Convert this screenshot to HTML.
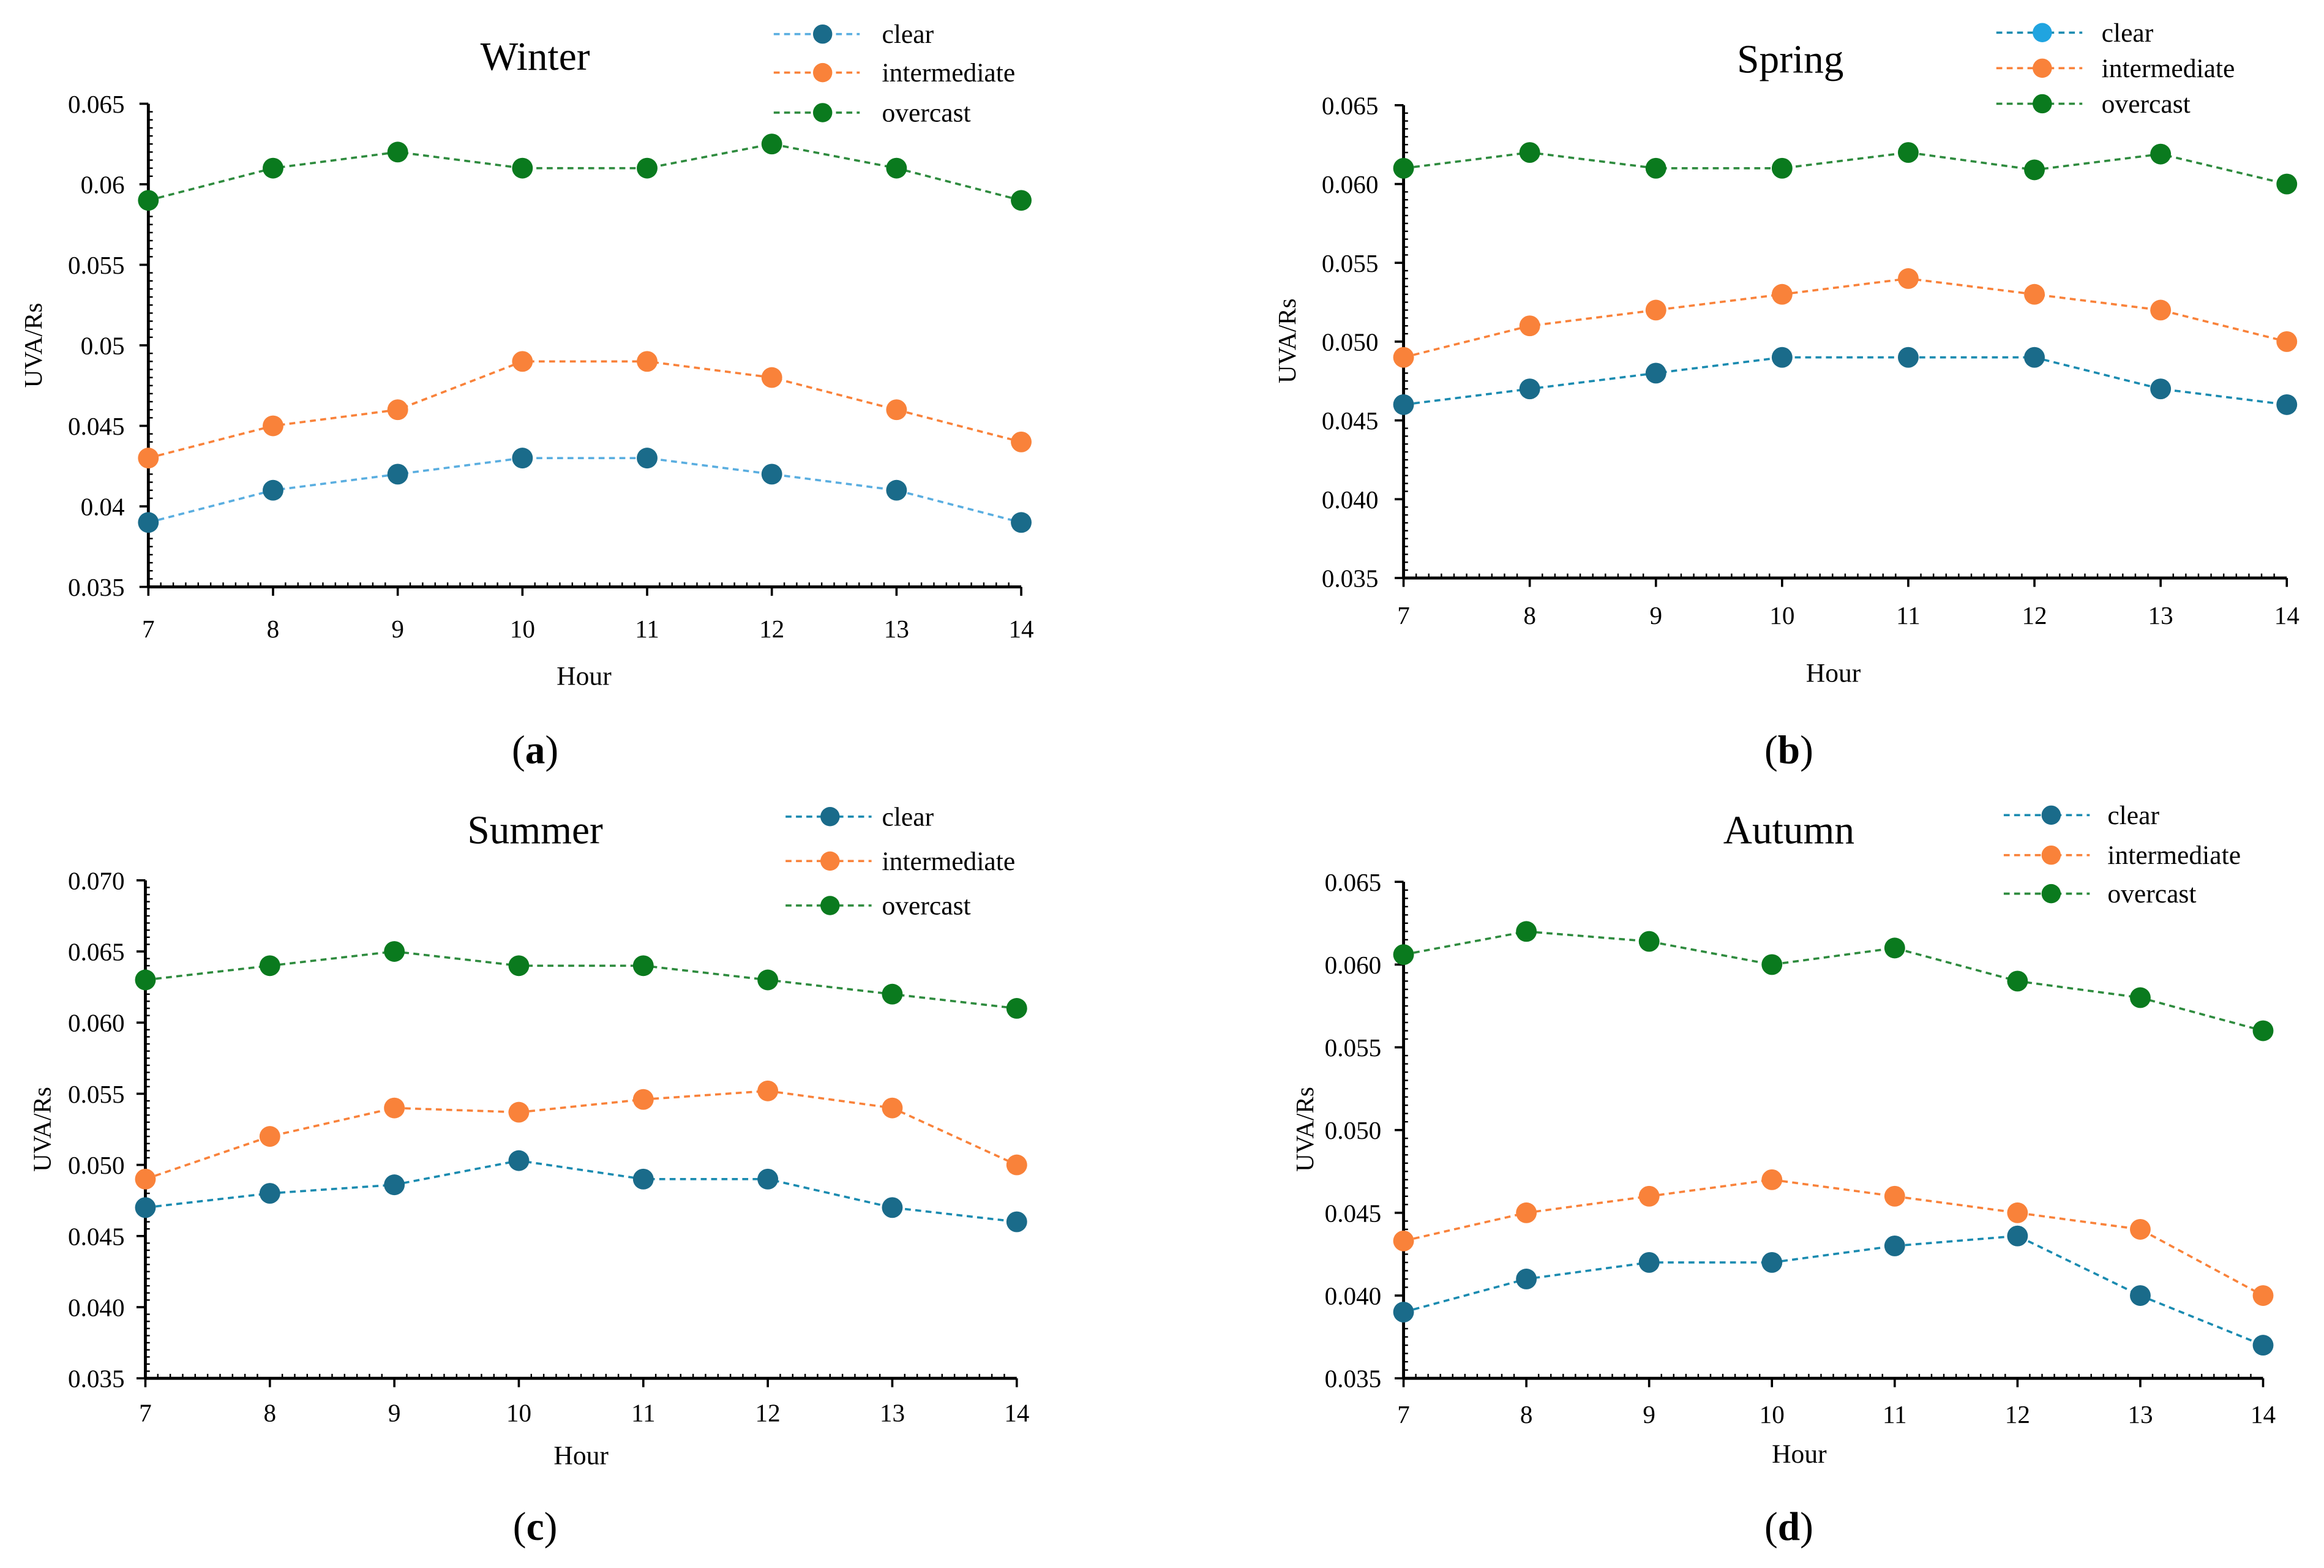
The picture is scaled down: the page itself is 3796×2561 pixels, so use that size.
<!DOCTYPE html>
<html><head><meta charset="utf-8"><style>
html,body{margin:0;padding:0;background:#fff}
svg{display:block;font-family:"Liberation Serif",serif}
svg text{font-family:"Liberation Serif",serif}
</style></head><body>
<svg id="chart" width="3796" height="2561" viewBox="0 0 1568 1058" xmlns="http://www.w3.org/2000/svg"></svg>
<script>
const hours = [7, 8, 9, 10, 11, 12, 13, 14];
const seriesNames = ["clear", "intermediate", "overcast"];
const winterClear = [0.039, 0.041, 0.042, 0.043, 0.043, 0.042, 0.041, 0.039];
const winterInter = [0.043, 0.045, 0.046, 0.049, 0.049, 0.048, 0.046, 0.044];
const winterOver = [0.059, 0.061, 0.062, 0.061, 0.061, 0.0625, 0.061, 0.059];
const springClear = [0.046, 0.047, 0.048, 0.049, 0.049, 0.049, 0.047, 0.046];
const springInter = [0.049, 0.051, 0.052, 0.053, 0.054, 0.053, 0.052, 0.050];
const springOver = [0.061, 0.062, 0.061, 0.061, 0.062, 0.0609, 0.0619, 0.060];
const summerClear = [0.047, 0.048, 0.0486, 0.0503, 0.049, 0.049, 0.047, 0.046];
const summerInter = [0.049, 0.052, 0.054, 0.0537, 0.0546, 0.0552, 0.054, 0.050];
const summerOver = [0.063, 0.064, 0.065, 0.064, 0.064, 0.063, 0.062, 0.061];
const autumnClear = [0.039, 0.041, 0.042, 0.042, 0.043, 0.0436, 0.040, 0.037];
const autumnInter = [0.0433, 0.045, 0.046, 0.047, 0.046, 0.045, 0.044, 0.040];
const autumnOver = [0.0606, 0.062, 0.0614, 0.060, 0.061, 0.059, 0.058, 0.056];
const ticksA = ["0.035","0.04","0.045","0.05","0.055","0.06","0.065"];
const ticksB = ["0.035","0.040","0.045","0.050","0.055","0.060","0.065"];
const ticksC = ["0.035","0.040","0.045","0.050","0.055","0.060","0.065","0.070"];

const NS = "http://www.w3.org/2000/svg";
const FONT = "Liberation Serif, serif";
const svg = document.getElementById("chart");
function mk(tag, attrs, parent, text) {
  const e = document.createElementNS(NS, tag);
  for (const k in attrs) e.setAttribute(k, attrs[k]);
  if (tag === "text") e.setAttribute("font-family", FONT);
  if (text !== undefined) e.textContent = text;
  (parent || svg).appendChild(e);
  return e;
}
const panels = [
  {key:"winter", title:"Winter", tx:361, ty:38, sub:"a", sx:361, sy:506,
   x0:100, x1:689, yTop:70, yBot:396, ticks:ticksA, lblX:84, xLblY:424, hx:394, hy:456, ytx:22, yty:233,
   data:[winterClear, winterInter, winterOver], lineClear:"#5aaee0", legMarkClear:"#1a6b8a",
   lx0:522, lx1:580, lm:555, lt:595, ly:[23,49,76]},
  {key:"spring", title:"Spring", tx:1208, ty:40, sub:"b", sx:1207, sy:506,
   x0:947, x1:1543, yTop:71, yBot:390, ticks:ticksB, lblX:930, xLblY:415, hx:1237, hy:454, ytx:868, yty:230,
   data:[springClear, springInter, springOver], lineClear:"#1a8bb0", legMarkClear:"#20a4e0",
   lx0:1347, lx1:1405, lm:1378, lt:1418, ly:[22,46,70]},
  {key:"summer", title:"Summer", tx:361, ty:560, sub:"c", sx:361, sy:1030,
   x0:98, x1:686, yTop:594, yBot:930, ticks:ticksC, lblX:84, xLblY:953, hx:392, hy:982, ytx:28, yty:762,
   data:[summerClear, summerInter, summerOver], lineClear:"#1a8bb0", legMarkClear:"#1a6b8a",
   lx0:530, lx1:588, lm:560, lt:595, ly:[551,581,611]},
  {key:"autumn", title:"Autumn", tx:1207, ty:560, sub:"d", sx:1207, sy:1030,
   x0:947, x1:1527, yTop:595, yBot:930, ticks:ticksB, lblX:932, xLblY:954, hx:1214, hy:981, ytx:880, yty:762,
   data:[autumnClear, autumnInter, autumnOver], lineClear:"#1a8bb0", legMarkClear:"#1a6b8a",
   lx0:1352, lx1:1410, lm:1384, lt:1422, ly:[550,577,603]}
];
const markColors = ["#1a6b8a", "#f9823a", "#0a7a1e"];
const lineColors2 = ["#f9823a", "#2e8b3e"];

panels.forEach(p => {
  const g = mk("g", {});
  
  
  const vMin = parseFloat(p.ticks[0]), vMax = parseFloat(p.ticks[p.ticks.length-1]);
  const yS = v => p.yBot - (v - vMin) / (vMax - vMin) * (p.yBot - p.yTop);
  const xS = h => p.x0 + (h - hours[0]) / (hours[hours.length-1] - hours[0]) * (p.x1 - p.x0);
  const ya = mk("line", {x1:p.x0, y1:p.yTop, x2:p.x0, y2:p.yBot, stroke:"#000", "stroke-width":2}, g);
  
  
  const xa = mk("line", {x1:p.x0, y1:p.yBot, x2:p.x1, y2:p.yBot, stroke:"#000", "stroke-width":2}, g);
  
  
  p.ticks.forEach((t, i) => {
    const y = yS(parseFloat(t));
    mk("line", {x1:p.x0-6, y1:y, x2:p.x0, y2:y, stroke:"#000", "stroke-width":1.5}, g);
    if (i < p.ticks.length-1) {
      for (let k = 1; k < 10; k++) {
        const ym = y - k*(y - yS(parseFloat(p.ticks[i+1])))/10;
        mk("line", {x1:p.x0, y1:ym, x2:p.x0+3, y2:ym, stroke:"#000", "stroke-width":1}, g);
      }
    }
    const tl = mk("text", {x:p.lblX, y:y+6, "text-anchor":"end", "font-size":17}, g, t);
    
    
  });
  hours.forEach((h, i) => {
    const x = xS(h);
    mk("line", {x1:x, y1:p.yBot, x2:x, y2:p.yBot+6, stroke:"#000", "stroke-width":1.5}, g);
    if (i < hours.length-1) {
      for (let k = 1; k < 10; k++) {
        const xm = x + k*(xS(hours[i+1]) - x)/10;
        mk("line", {x1:xm, y1:p.yBot-3, x2:xm, y2:p.yBot, stroke:"#000", "stroke-width":1}, g);
      }
    }
    const xl = mk("text", {x:x, y:p.xLblY+6, "text-anchor":"middle", "font-size":17}, g, String(h));
    
    
  });
  const ht = mk("text", {x:p.hx, y:p.hy+6, "text-anchor":"middle", "font-size":18}, g, "Hour");
  
  
  const yt = mk("text", {x:p.ytx, y:p.yty, "text-anchor":"middle", "font-size":17, transform:`rotate(-90 ${p.ytx} ${p.yty})`, dy:6}, g, "UVA/Rs");
  
  
  const tt = mk("text", {x:p.tx, y:p.ty+9, "text-anchor":"middle", "font-size":27}, g, p.title);
  
  
  const st = mk("text", {x:p.sx, y:p.sy+9, "text-anchor":"middle", "font-size":27}, g);
  
  
  mk("tspan", {}, st, "(");
  mk("tspan", {"font-weight":"bold"}, st, p.sub);
  mk("tspan", {}, st, ")");
  const lineCols = [p.lineClear, lineColors2[0], lineColors2[1]];
  p.data.forEach((vals, si) => {
    const pts = vals.map((v, i) => `${xS(hours[i])},${yS(v)}`).join(" ");
    const pl = mk("polyline", {points:pts, fill:"none", stroke:lineCols[si], "stroke-width":1.5, "stroke-dasharray":"4,3"}, g);
    
    
    vals.forEach((v, i) => {
      const c = mk("circle", {cx:xS(hours[i]), cy:yS(v), r:7, fill:markColors[si]}, g);
      
      
    });
    const ly = p.ly[si];
    const le = mk("g", {}, g);
    
    
    mk("line", {x1:p.lx0, y1:ly, x2:p.lx1, y2:ly, stroke:lineCols[si], "stroke-width":1.5, "stroke-dasharray":"4,3"}, le);
    mk("circle", {cx:p.lm, cy:ly, r:6.5, fill: si===0 ? p.legMarkClear : markColors[si]}, le);
    mk("text", {x:p.lt, y:ly+6, "font-size":18}, le, seriesNames[si]);
  });
});
</script>
</body></html>
